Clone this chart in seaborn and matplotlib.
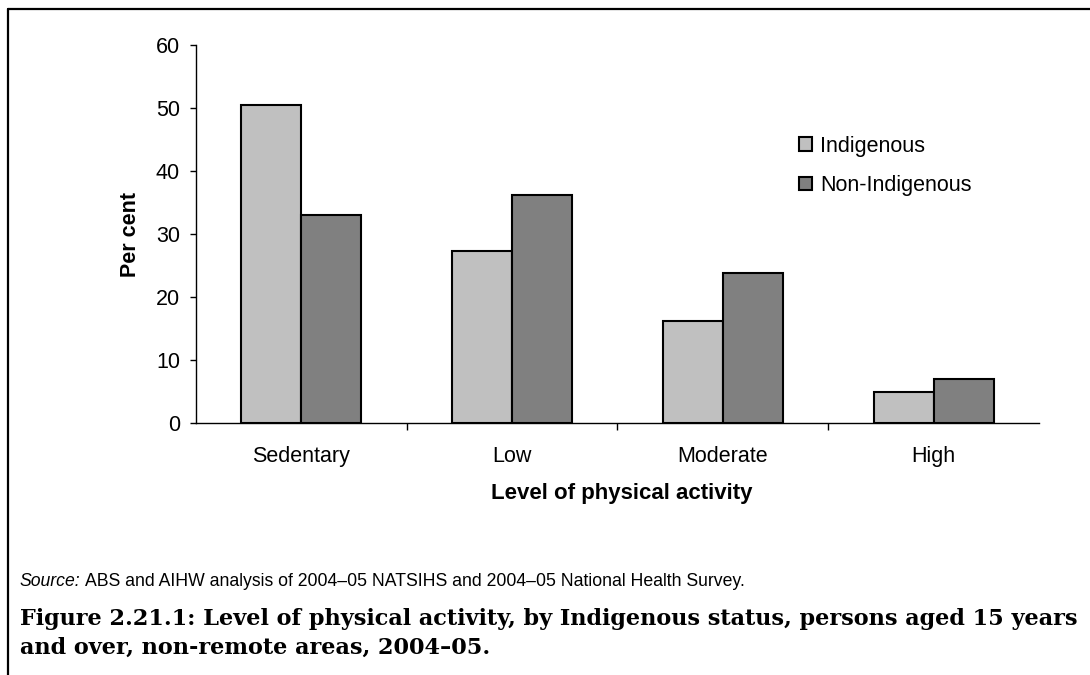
import seaborn as sns
import matplotlib.pyplot as plt
import pandas as pd
from matplotlib.lines import Line2D

# values
levels = ["Sedentary", "Low", "Moderate", "High"]
indigenous = [50.5, 27.4, 16.3, 4.9]
non_indigenous = [33.1, 36.2, 23.8, 7.0]
groups = ["Indigenous", "Non-Indigenous"]
y_ticks = [0, 10, 20, 30, 40, 50, 60]

df = pd.DataFrame(
    {
        "level": levels * 2,
        "status": [groups[0]] * 4 + [groups[1]] * 4,
        "pct": indigenous + non_indigenous,
    }
)

sns.set_style("ticks", rc={"text.color": "black", "axes.labelcolor": "black",
                           "xtick.color": "black", "ytick.color": "black"})
plt.rcParams["font.family"] = ["Liberation Sans", "DejaVu Sans"]

fig = plt.figure(figsize=(10.9, 6.75), dpi=100)
ax = fig.add_axes([0.1798, 0.3729, 0.7734, 0.5604])

sns.barplot(
    data=df, x="level", y="pct", hue="status", order=levels, hue_order=groups,
    palette=["#c0c0c0", "#808080"], width=0.57, gap=0, saturation=1,
    edgecolor="black", linewidth=1.5, ax=ax,
)

ax.set_xlim(-0.5, 3.5)
ax.set_ylim(0, 60)
ax.set_yticks(y_ticks)
ax.set_xticks([0.5, 1.5, 2.5], minor=True)
ax.tick_params(axis="x", which="major", length=0, pad=16, labelsize=15.5)
ax.tick_params(axis="x", which="minor", length=5, width=1, direction="out")
ax.tick_params(axis="y", length=4.5, width=1, pad=7, labelsize=15.5)
sns.despine(ax=ax)
for s in ("left", "bottom"):
    ax.spines[s].set_linewidth(1)
    ax.spines[s].set_color("black")

ax.set_ylabel("Per cent", fontsize=15.5, fontweight="bold")
ax.yaxis.set_label_coords(-0.078, 0.5)
ax.set_xlabel("Level of physical activity", fontsize=16, fontweight="bold")
ax.xaxis.set_label_coords(0.505, -0.185)
ax.xaxis.label.set_va("center")
ax.yaxis.label.set_va("center")

ax.legend(
    loc="upper left", bbox_to_anchor=(0.723, 0.815), bbox_transform=fig.transFigure,
    frameon=False, fontsize=15.5, handlelength=0.6, handleheight=0.6,
    handletextpad=0.4, labelspacing=0.85, borderpad=0,
)

# frame around the figure (top and left edges)
fig.add_artist(Line2D([8 / 1090, 1], [1 - 9 / 675, 1 - 9 / 675], color="black", lw=1.6,
                      transform=fig.transFigure))
fig.add_artist(Line2D([8 / 1090, 8 / 1090], [0, 1 - 9 / 675], color="black", lw=1.6,
                      transform=fig.transFigure))

src = fig.text(20 / 1090, 1 - 582 / 675, "Source:", fontsize=12.7, style="italic", va="center")
r = fig.canvas.get_renderer()
bb = src.get_window_extent(r)
fig.text(bb.x1 / 1090 + 4 / 1090, 1 - 582 / 675,
         "ABS and AIHW analysis of 2004\u201305 NATSIHS and 2004\u201305 National Health Survey.",
         fontsize=12.7, va="center")

cap_font = ["DejaVu Serif"]
fig.text(20 / 1090, 1 - 619 / 675,
         "Figure 2.21.1: Level of physical activity, by Indigenous status, persons aged 15 years",
         fontsize=16.1, fontweight="bold", family=cap_font, va="center")
fig.text(20 / 1090, 1 - 648 / 675, "and over, non-remote areas, 2004\u201305.",
         fontsize=16.1, fontweight="bold", family=cap_font, va="center")

fig.savefig("out.png", dpi=100)
